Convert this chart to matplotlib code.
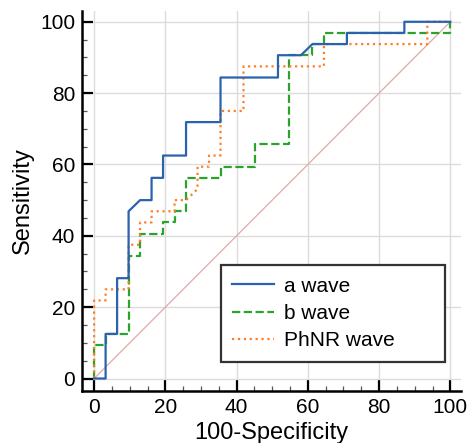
import numpy as np
import matplotlib.pyplot as plt

plt.rcParams['font.family'] = ['Liberation Sans', 'DejaVu Sans']

n_neg = 31
n_pos = 32

# ROC vertices as (false positives, true positives) counts
a_fp = [0, 1, 1, 2, 2, 3, 3, 4, 5, 5, 6, 6, 8, 8, 11, 11, 16, 16, 18, 19, 22, 22, 27, 27, 31]
a_tp = [0, 0, 4, 4, 9, 9, 15, 16, 16, 18, 18, 20, 20, 23, 23, 27, 27, 29, 29, 30, 30, 31, 31, 32, 32]

b_fp = [0, 0, 1, 1, 3, 3, 4, 4, 6, 6, 7, 7, 8, 8, 11, 11, 14, 14, 17, 17, 19, 19, 20, 20, 31, 31]
b_tp = [0, 3, 3, 4, 4, 11, 11, 13, 13, 14, 14, 15, 15, 18, 18, 19, 19, 21, 21, 29, 29, 30, 30, 31, 31, 32]

p_fp = [0, 0, 1, 1, 3, 3, 4, 4, 5, 5, 7, 7, 8, 9, 9, 10, 10, 11, 11, 13, 13, 20, 20, 29, 29, 31]
p_tp = [0, 7, 7, 8, 8, 12, 12, 14, 14, 15, 15, 16, 16, 17, 19, 19, 20, 20, 24, 24, 28, 28, 30, 30, 32, 32]

def pct(v, n):
    return np.array(v) * 100.0 / n

fig = plt.figure(figsize=(4.74, 4.43), dpi=100)
ax = fig.add_axes([0.173, 0.1174, 0.7996, 0.8576])

ax.plot([0, 100], [0, 100], color='#e3a8a8', linewidth=0.9, zorder=1)
ax.plot(pct(a_fp, n_neg), pct(a_tp, n_pos), color='#2a62ae', linewidth=1.6, label='a wave', zorder=3)
ax.plot(pct(b_fp, n_neg), pct(b_tp, n_pos), '--', color='#2aa32a', linewidth=1.6, label='b wave', zorder=2)
ax.plot(pct(p_fp, n_neg), pct(p_tp, n_pos), ':', color='#ff7f27', linewidth=1.6, label='PhNR wave', zorder=2)

ax.set_xlim(-3.4, 103)
ax.set_ylim(-3.5, 103)
ax.set_xticks(np.arange(0, 101, 20))
ax.set_yticks(np.arange(0, 101, 20))
ax.set_xticks(np.arange(0, 101, 5), minor=True)
ax.set_yticks(np.arange(0, 101, 5), minor=True)
ax.grid(True, which='major', color='#dcdcdc', linewidth=1)
ax.set_axisbelow(True)

for s in ['top', 'right']:
    ax.spines[s].set_visible(False)
for s in ['left', 'bottom']:
    ax.spines[s].set_linewidth(1.8)

ax.tick_params(which='major', direction='in', length=8, width=1.6, labelsize=15, pad=5)
ax.tick_params(which='minor', direction='in', length=3.5, width=0.9, color='#555555')

ax.set_xlabel('100-Specificity', fontsize=17, labelpad=4)
ax.set_ylabel('Sensitivity', fontsize=17, labelpad=4)

leg = ax.legend(loc='lower left', bbox_to_anchor=(0.366, 0.077, 0.592, 0.25), mode='expand',
                fontsize=15, fancybox=False, framealpha=1, edgecolor='#333333',
                handlelength=2.0, handletextpad=0.5, labelspacing=0.4,
                borderpad=0.55, borderaxespad=0)
leg.get_frame().set_linewidth(1.6)

fig.savefig('out.png', dpi=100)
